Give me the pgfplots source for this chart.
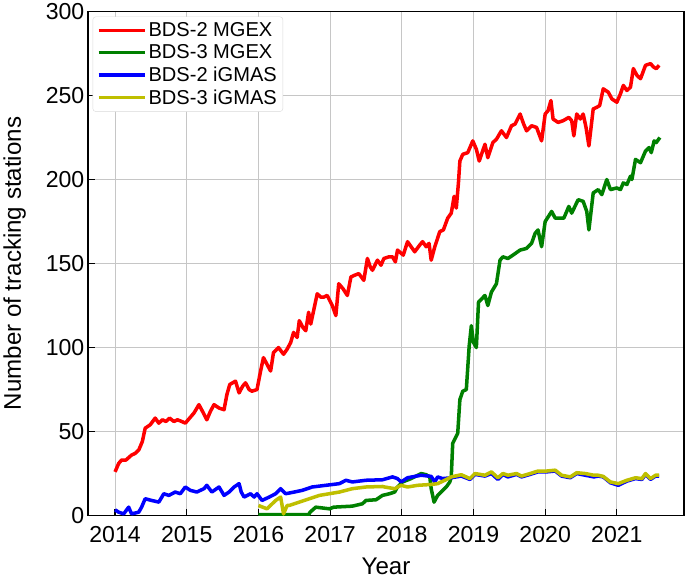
\documentclass[border=0pt]{standalone}
\usepackage{fontspec}
\setmainfont{Liberation Sans}
\usepackage{pgfplots}
\pgfplotsset{compat=1.18}
\definecolor{bdsred}{RGB}{255,0,0}
\definecolor{bdsgreen}{RGB}{0,128,0}
\definecolor{bdsblue}{RGB}{0,0,255}
\definecolor{bdsyellow}{RGB}{191,191,0}
\begin{document}
\begin{tikzpicture}
\begin{axis}[
    scale only axis,
    width=594pt, height=502pt,
    xmin=2013.62, xmax=2021.94,
    ymin=0, ymax=300,
    xtick={2014,2015,2016,2017,2018,2019,2020,2021},
    ytick={0,50,100,150,200,250,300},
    xticklabel style={/pgf/number format/1000 sep={}, yshift=-7pt},
    /pgf/number format/assume math mode=true,
    tick label style={font=\fontsize{23}{27}\selectfont, black},
    label style={font=\fontsize{24}{28}\selectfont},
    xlabel={Year},
    ylabel={Number of tracking stations},
    xlabel style={yshift=-9pt},
    ylabel style={yshift=13pt},
    tick align=inside,
    xtick pos=bottom, ytick pos=left,
    major tick length=7pt,
    tick style={black, line width=1.2pt},
    axis line style={black, line width=1.5pt},
    grid=major,
    grid style={gray!45, line width=1pt},
    legend cell align=left,
    legend style={at={(0.008,0.99)}, anchor=north west, draw=gray!30,
        rounded corners=3pt, font=\fontsize{20}{23}\selectfont,
        row sep=2.5pt, inner xsep=4pt, inner ysep=4pt},
    legend image code/.code={\draw[#1, line width=3.5pt] (0pt,0pt) -- (46pt,0pt);},
    every axis plot/.append style={line width=3.5pt, line join=round},
]
\addplot[bdsred] table {
2014.00 26
2014.05 31
2014.09 33
2014.15 33
2014.23 36
2014.28 37
2014.33 39
2014.38 44
2014.42 52
2014.49 54
2014.56 58
2014.61 55
2014.66 57
2014.71 56
2014.76 58
2014.82 56
2014.87 57
2014.93 56
2014.98 55
2015.04 58
2015.10 61
2015.17 66
2015.22 62
2015.28 57
2015.33 62
2015.38 66
2015.45 64
2015.52 63
2015.56 72
2015.60 78
2015.68 80
2015.73 73
2015.78 77
2015.82 79
2015.87 75
2015.91 74
2015.98 75
2016.03 86
2016.07 94
2016.12 90
2016.17 86
2016.21 97
2016.28 100
2016.35 96
2016.40 99
2016.45 103
2016.49 109
2016.54 106
2016.57 116
2016.62 112
2016.66 110
2016.70 121
2016.73 114
2016.78 124
2016.82 132
2016.87 130
2016.91 130
2016.96 131
2017.03 125
2017.08 119
2017.12 138
2017.18 135
2017.24 131
2017.29 142
2017.34 143
2017.40 144
2017.47 140
2017.52 153
2017.56 148
2017.59 146
2017.66 152
2017.71 149
2017.75 153
2017.82 154
2017.87 154
2017.91 151
2017.94 158
2018.02 155
2018.08 163
2018.13 160
2018.18 157
2018.25 161
2018.29 163
2018.34 160
2018.38 162
2018.41 152
2018.46 160
2018.53 169
2018.58 170
2018.64 177
2018.69 180
2018.73 190
2018.76 183
2018.79 198
2018.81 211
2018.85 215
2018.92 216
2018.99 223
2019.04 218
2019.08 211
2019.16 221
2019.20 213
2019.27 222
2019.32 224
2019.39 229
2019.46 225
2019.53 232
2019.58 233
2019.65 239
2019.70 233
2019.74 229
2019.81 232
2019.88 231
2019.95 223
2020.00 239
2020.04 241
2020.08 247
2020.11 236
2020.18 234
2020.25 235
2020.33 237
2020.37 235
2020.40 226
2020.44 239
2020.49 236
2020.53 239
2020.57 231
2020.61 220
2020.67 242
2020.72 243
2020.76 244
2020.81 254
2020.88 252
2020.93 248
2021.00 246
2021.05 251
2021.09 256
2021.14 253
2021.19 255
2021.23 266
2021.28 262
2021.33 260
2021.40 268
2021.47 269
2021.51 267
2021.55 266
2021.59 268
};
\addlegendentry{BDS-2 MGEX}

\addplot[bdsgreen] table {
2016.00 0.5
2016.70 0.5
2016.72 2
2016.80 5
2016.99 4
2017.05 5
2017.31 5.6
2017.45 7
2017.50 9
2017.64 9.4
2017.73 12
2017.83 13
2017.90 14
2017.94 17
2018.01 20
2018.13 22
2018.27 25
2018.34 24.3
2018.39 23
2018.41 16
2018.45 8
2018.50 12
2018.57 15
2018.62 17
2018.67 20
2018.69 23
2018.71 43
2018.78 49
2018.81 69
2018.85 74
2018.90 75
2018.94 101
2018.97 113
2019.00 103
2019.04 100
2019.07 127
2019.16 131
2019.20 125
2019.25 133
2019.32 138
2019.37 152
2019.41 154
2019.48 153
2019.55 155
2019.65 158
2019.74 159
2019.81 162
2019.86 168
2019.90 170
2019.95 160
2020.00 175
2020.09 181
2020.14 177
2020.26 177
2020.33 184
2020.37 180
2020.46 188
2020.53 187
2020.58 181
2020.61 170
2020.67 192
2020.74 194
2020.79 191
2020.86 200
2020.91 194
2021.00 195
2021.05 194
2021.09 198
2021.14 197
2021.19 202
2021.21 200
2021.26 212
2021.33 210
2021.40 217
2021.45 219
2021.48 216
2021.52 223
2021.55 222
2021.60 225
};
\addlegendentry{BDS-3 MGEX}

\addplot[bdsblue] table {
2014.00 3.4
2014.05 2
2014.12 1
2014.19 5
2014.23 1
2014.33 2
2014.37 5
2014.42 10
2014.51 9
2014.61 8
2014.68 13
2014.75 12
2014.84 14
2014.91 13
2014.98 17
2015.05 15
2015.14 14
2015.24 16
2015.28 18
2015.35 14
2015.45 17
2015.52 12
2015.59 14
2015.66 17
2015.73 19
2015.76 14
2015.80 11
2015.89 13
2015.94 11
2015.98 13
2016.05 9
2016.15 11
2016.24 13
2016.31 16
2016.38 13
2016.50 14
2016.61 15
2016.75 17
2016.94 18
2017.13 19
2017.22 21
2017.31 20
2017.50 21
2017.73 21.3
2017.87 23
2017.94 22
2017.99 20
2018.08 22.5
2018.27 24
2018.41 23.3
2018.46 20
2018.50 23
2018.57 22
2018.69 22.5
2018.83 23.5
2018.95 21.5
2019.02 24.5
2019.16 23.5
2019.25 25
2019.34 21.5
2019.41 24.5
2019.48 23
2019.60 24.5
2019.67 23
2019.79 24.5
2019.90 26
2020.02 26
2020.14 26.5
2020.23 23.5
2020.35 22.5
2020.44 25
2020.56 24
2020.68 23
2020.74 23.5
2020.81 23
2020.91 19.5
2021.02 18
2021.14 20.5
2021.26 22
2021.35 21.5
2021.40 24.5
2021.47 21.5
2021.54 23.5
2021.59 23.5
};
\addlegendentry{BDS-2 iGMAS}

\addplot[bdsyellow] table {
2016.00 6
2016.12 4
2016.24 9
2016.31 11
2016.35 1
2016.40 6
2016.43 6
2016.57 8
2016.71 10
2016.85 12
2016.99 13
2017.13 14
2017.31 16
2017.50 17
2017.73 17.3
2017.76 17
2017.90 16
2017.99 18
2018.08 17
2018.22 18
2018.41 18.5
2018.50 19
2018.60 21
2018.69 23
2018.83 24.3
2018.95 22
2019.02 25
2019.16 24
2019.25 26
2019.34 22.5
2019.41 25
2019.48 24
2019.60 25
2019.67 23.5
2019.79 25
2019.90 26.5
2020.02 26.5
2020.14 27
2020.23 24
2020.35 23
2020.44 25.5
2020.56 25
2020.68 24
2020.74 24
2020.81 23.3
2020.91 20
2021.02 19
2021.14 21
2021.26 22.5
2021.35 22
2021.40 25
2021.47 22
2021.54 24
2021.59 24
};
\addlegendentry{BDS-3 iGMAS}
\end{axis}
\end{tikzpicture}
\end{document}
